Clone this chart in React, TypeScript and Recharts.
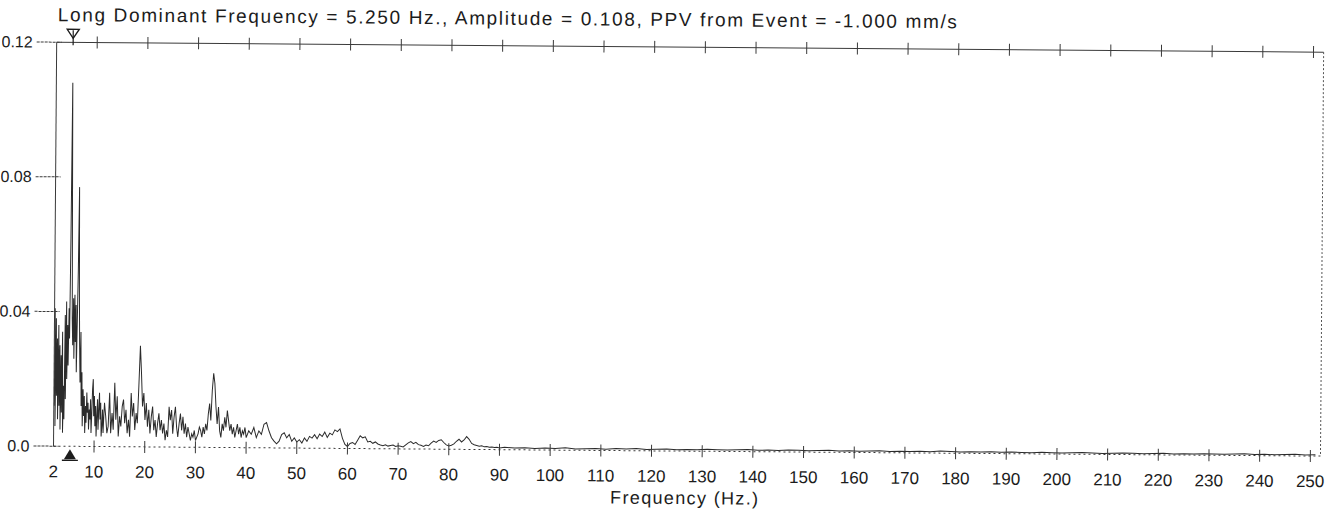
import React from 'react';
import { LineChart, Line, XAxis, YAxis, ReferenceDot } from 'recharts';

const TITLE = 'Long Dominant Frequency = 5.250 Hz., Amplitude = 0.108, PPV from Event = -1.000 mm/s';
const X_TITLE = 'Frequency (Hz.)';
const DOMINANT_HZ = 5.25;
const X_TICKS = [2, 10, 20, 30, 40, 50, 60, 70, 80, 90, 100, 110, 120, 130, 140, 150, 160, 170, 180, 190, 200, 210, 220, 230, 240, 250];
const TOP_TICKS = [10, 20, 30, 40, 50, 60, 70, 80, 90, 100, 110, 120, 130, 140, 150, 160, 170, 180, 190, 200, 210, 220, 230, 240, 250];
const Y_TICKS = [0, 0.04, 0.08, 0.12];

// spectrum amplitude in bands of different resolution
// 2 .. 12 Hz, every 0.125 Hz
const AMP_LOW = [
  0.012, 0.041, 0.006, 0.038, 0.015, 0.032, 0.008, 0.036,
  0.012, 0.030, 0.005, 0.027, 0.010, 0.034, 0.004, 0.018,
  0.008, 0.039, 0.014, 0.043, 0.020, 0.036, 0.024, 0.041,
  0.032, 0.062, 0.108, 0.071, 0.038, 0.030, 0.044, 0.026,
  0.045, 0.031, 0.042, 0.022, 0.037, 0.052, 0.077, 0.046,
  0.030, 0.019, 0.034, 0.012, 0.022, 0.006, 0.017, 0.009,
  0.015, 0.004, 0.012, 0.007, 0.016, 0.010, 0.013, 0.005,
  0.011, 0.008, 0.014, 0.004, 0.010, 0.017, 0.020, 0.009,
  0.015, 0.006, 0.012, 0.003, 0.009, 0.014, 0.005, 0.011,
  0.016, 0.008, 0.013, 0.003, 0.006, 0.011, 0.004, 0.009,
  0.013,
];
// 12.25 .. 40 Hz, every 0.25 Hz
const AMP_MID = [
  0.009, 0.004, 0.006, 0.016,
  0.004, 0.010, 0.005, 0.019,
  0.008, 0.015, 0.003, 0.009,
  0.006, 0.012, 0.014, 0.007,
  0.011, 0.004, 0.008, 0.003,
  0.016, 0.009, 0.013, 0.005,
  0.010, 0.007, 0.018, 0.030,
  0.022, 0.012, 0.016, 0.008,
  0.013, 0.006, 0.011, 0.004,
  0.009, 0.012, 0.005, 0.008,
  0.003, 0.007, 0.010, 0.005,
  0.008, 0.004, 0.007, 0.002,
  0.005, 0.003, 0.012, 0.008,
  0.011, 0.004, 0.009, 0.012,
  0.006, 0.003, 0.007, 0.010,
  0.005, 0.009, 0.004, 0.007,
  0.003, 0.006, 0.004, 0.002,
  0.004, 0.003, 0.005, 0.002,
  0.003, 0.004, 0.006, 0.005,
  0.003, 0.006, 0.004, 0.007,
  0.005, 0.010, 0.013, 0.008,
  0.017, 0.022, 0.019, 0.012,
  0.007, 0.012, 0.005, 0.003,
  0.007, 0.005, 0.009, 0.006,
  0.011, 0.008, 0.005, 0.007,
  0.004, 0.006, 0.003, 0.005,
  0.007, 0.004, 0.006, 0.003,
  0.005, 0.004, 0.006, 0.003,
];
// 40.5 .. 90 Hz, every 0.5 Hz
const AMP_HIGH = [
  0.005, 0.004, 0.006, 0.003, 0.005, 0.004, 0.007, 0.0075, 0.005, 0.003,
  0.002, 0.0012, 0.002, 0.004, 0.0045, 0.003, 0.004, 0.002, 0.003, 0.0018,
  0.0025, 0.0015, 0.003, 0.002, 0.0035, 0.003, 0.004, 0.0028, 0.0042, 0.0035,
  0.0048, 0.0032, 0.0045, 0.004, 0.0055, 0.005, 0.0058, 0.003, 0.0012, 0.0006,
  0.0015, 0.0018, 0.0012, 0.0025, 0.0038, 0.0032, 0.0035, 0.002, 0.0022, 0.0016,
  0.002, 0.0014, 0.0011, 0.0009, 0.0012, 0.0008, 0.001, 0.0011, 0.0007, 0.0009,
  0.0008, 0.0006, 0.0012, 0.0018, 0.0022, 0.0016, 0.002, 0.0013, 0.0011, 0.0008,
  0.0012, 0.001, 0.0018, 0.0024, 0.002, 0.0026, 0.0028, 0.002, 0.0013, 0.001,
  0.0012, 0.0016, 0.0024, 0.003, 0.0022, 0.0028, 0.0038, 0.003, 0.0018, 0.0014,
  0.0012, 0.001, 0.0011, 0.0008, 0.0009, 0.0007, 0.0008, 0.0006, 0.0007, 0.0005,
];
// 91 .. 251 Hz, every 2 Hz
const AMP_TAIL = [
  0.0007, 0.0005, 0.0006, 0.0004, 0.0006, 0.0005, 0.0007, 0.0004, 0.0005, 0.0006,
  0.0004, 0.0006, 0.0005, 0.0007, 0.0004, 0.0005, 0.0006, 0.0004, 0.0005, 0.0004,
  0.0006, 0.0005, 0.0004, 0.0005, 0.0006, 0.0004, 0.0005, 0.0004, 0.0006, 0.0005,
  0.0004, 0.0005, 0.0006, 0.0004, 0.0005, 0.0004, 0.0005, 0.0006, 0.0004, 0.0005,
  0.0004, 0.0005, 0.0004, 0.0006, 0.0005, 0.0004, 0.0005, 0.0004, 0.0005, 0.0004,
  0.0005, 0.0004, 0.0003, 0.0005, 0.0004, 0.0003, 0.0004, 0.0005, 0.0004, 0.0003,
  0.0004, 0.0005, 0.0004, 0.0003, 0.0004, 0.0005, 0.0003, 0.0004, 0.0003, 0.0004,
  0.0004, 0.0003, 0.0004, 0.0005, 0.0003, 0.0004, 0.0003, 0.0004, 0.0005, 0.0003,
  0.0004,
];

const bands = [
  { start: 2, step: 0.125, amp: AMP_LOW },
  { start: 12.25, step: 0.25, amp: AMP_MID },
  { start: 40.5, step: 0.5, amp: AMP_HIGH },
  { start: 91, step: 2, amp: AMP_TAIL },
];

const data = bands.flatMap((b) =>
  b.amp.map((a, i) => ({ hz: +(b.start + i * b.step).toFixed(3), amp: a }))
);

const FONT = '"Liberation Sans", Arial, sans-serif';
const INK = '#1c1c1c';
const AXIS = '#3a3a3a';
const PLOT_TOP = 47;

const fmtY = (v: number) => (v === 0 ? '0.0' : v.toFixed(2));

const LeftTick = (props: any) => {
  const { x, y, payload } = props;
  return (
    <g>
      <line x1={x - 20} x2={x + 5} y1={y} y2={y} stroke={AXIS} strokeDasharray="3 1" />
      <text x={x - 24} y={y + 5.5} textAnchor="end" fontSize={16} fontFamily={FONT} fill={INK}>
        {fmtY(payload.value)}
      </text>
    </g>
  );
};

const BottomTick = (props: any) => {
  const { x, y, payload } = props;
  return (
    <g>
      {payload.value !== 2 && <line x1={x} x2={x} y1={y - 6} y2={y + 6} stroke={AXIS} />}
      <text x={x} y={y + 31} textAnchor="middle" fontSize={17} fontFamily={FONT} fill={INK}>
        {payload.value}
      </text>
    </g>
  );
};

const TopTick = (props: any) => {
  const { x } = props;
  return <line x1={x} x2={x} y1={PLOT_TOP - 6} y2={PLOT_TOP + 6} stroke={AXIS} />;
};

const TopMarker = (props: any) => {
  const { cx, cy } = props;
  return (
    <g>
      <polygon
        points={`${cx - 6},${cy - 13} ${cx + 6},${cy - 13} ${cx},${cy - 4}`}
        fill="#fff"
        stroke={INK}
        strokeWidth={1.4}
      />
      <line x1={cx} x2={cx} y1={cy - 12} y2={cy + 3} stroke={INK} strokeWidth={1.2} />
    </g>
  );
};

const BottomMarker = (props: any) => {
  const { cx, cy } = props;
  return (
    <g>
      <polygon points={`${cx - 6},${cy + 13} ${cx + 6},${cy + 13} ${cx},${cy + 3}`} fill={INK} />
      <line x1={cx - 8} x2={cx + 8} y1={cy + 14} y2={cy + 14} stroke={INK} strokeWidth={1.4} />
    </g>
  );
};

export default function App() {
  return (
    <div
      style={{
        position: 'absolute',
        left: 0,
        top: 0,
        width: 1340,
        height: 517,
        background: '#fff',
        transform: 'rotate(0.45deg)',
        transformOrigin: '670px 258px',
      }}
    >
      <LineChart width={1340} height={517} data={data} margin={{ top: 46, right: 17, bottom: 0, left: 0 }}>
        <XAxis
          xAxisId="bottom"
          dataKey="hz"
          type="number"
          domain={[2, 252]}
          ticks={X_TICKS}
          interval={0}
          height={66}
          tickSize={0}
          tickMargin={0}
          tickLine={false}
          tick={<BottomTick />}
          axisLine={{ stroke: AXIS, strokeDasharray: '2 3' }}
          allowDataOverflow
        />
        <XAxis
          xAxisId="top"
          dataKey="hz"
          orientation="top"
          type="number"
          domain={[2, 252]}
          ticks={TOP_TICKS}
          interval={0}
          height={1}
          tickSize={0}
          tickMargin={0}
          tickLine={false}
          tick={<TopTick />}
          axisLine={{ stroke: AXIS }}
          allowDataOverflow
        />
        <YAxis
          yAxisId="left"
          type="number"
          domain={[0, 0.12]}
          ticks={Y_TICKS}
          interval={0}
          width={55}
          tickSize={0}
          tickMargin={0}
          tickLine={false}
          tick={<LeftTick />}
          axisLine={{ stroke: AXIS }}
          allowDataOverflow
        />
        <YAxis
          yAxisId="right"
          orientation="right"
          type="number"
          domain={[0, 0.12]}
          width={1}
          tick={false}
          tickLine={false}
          axisLine={{ stroke: '#555', strokeDasharray: '2 2' }}
          allowDataOverflow
        />
        <Line
          xAxisId="bottom"
          yAxisId="left"
          type="linear"
          dataKey="amp"
          stroke="#2b2b2b"
          strokeWidth={1}
          dot={false}
          isAnimationActive={false}
        />
        <ReferenceDot xAxisId="bottom" yAxisId="left" x={DOMINANT_HZ} y={0.12} ifOverflow="visible" shape={TopMarker} />
        <ReferenceDot xAxisId="bottom" yAxisId="left" x={DOMINANT_HZ} y={0} ifOverflow="visible" shape={BottomMarker} />
      </LineChart>
      <svg width={1340} height={517} style={{ position: 'absolute', left: 0, top: 0, pointerEvents: 'none' }}>
        <text x={56} y={26} fontSize={19} fontFamily={FONT} fill={INK} textLength={899} lengthAdjust="spacing">
          {TITLE}
        </text>
        <text x={612} y={504} fontSize={18} fontFamily={FONT} fill={INK} textLength={148} lengthAdjust="spacing">
          {X_TITLE}
        </text>
      </svg>
    </div>
  );
}
